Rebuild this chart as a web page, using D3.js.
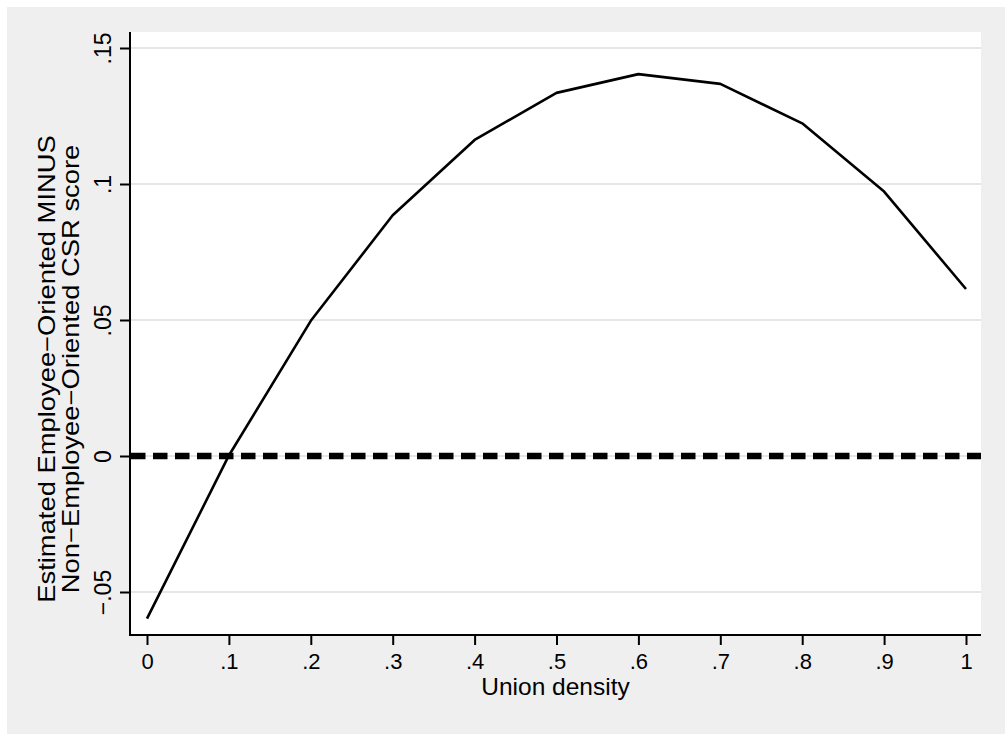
<!DOCTYPE html>
<html>
<head>
<meta charset="utf-8">
<script src="https://cdn.jsdelivr.net/npm/d3@7"></script>
<style>
  html, body { margin: 0; padding: 0; background: #fff; }
  text { font-family: "Liberation Sans", Arial, sans-serif; fill: #000; }
</style>
</head>
<body>
<div id="chart"></div>
<script>
// union density (x) and estimated score difference (y)
const unionDensity = [0, 0.1, 0.2, 0.3, 0.4, 0.5, 0.6, 0.7, 0.8, 0.9, 1];
const scoreDiff = [-0.0598, 0.0002, 0.0497, 0.0885, 0.1162, 0.1335, 0.1404, 0.1368, 0.1223, 0.0972, 0.0614];

const xTicks = [0, 0.1, 0.2, 0.3, 0.4, 0.5, 0.6, 0.7, 0.8, 0.9, 1];
const xTickLabels = ["0", ".1", ".2", ".3", ".4", ".5", ".6", ".7", ".8", ".9", "1"];
const yTicks = [-0.05, 0, 0.05, 0.1, 0.15];
const yTickLabels = ["\u2212.05", "0", ".05", ".1", ".15"];
const refLine = 0;

const xTitle = "Union density";
const yTitle = ["Estimated Employee\u2212Oriented MINUS", "Non\u2212Employee\u2212Oriented CSR score"];

const W = 1005, H = 734;
const plot = { left: 130, right: 981, top: 32, bottom: 635 };

const svg = d3.select("#chart").append("svg")
  .attr("width", W)
  .attr("height", H);

// outer graph region
svg.append("rect")
  .attr("x", 7).attr("y", 7)
  .attr("width", W - 7).attr("height", H - 7)
  .attr("fill", "#efefef");

svg.append("rect")
  .attr("x", plot.left).attr("y", plot.top)
  .attr("width", plot.right - plot.left).attr("height", plot.bottom - plot.top)
  .attr("fill", "#fff");

const x = d3.scaleLinear().domain([0, 1]).range([147, 966]);
const y = d3.scaleLinear().domain([-0.05, 0.15]).range([592, 48]);

// gridlines
svg.append("g")
  .selectAll("line")
  .data(yTicks)
  .join("line")
  .attr("x1", plot.left).attr("x2", plot.right)
  .attr("y1", d => y(d)).attr("y2", d => y(d))
  .attr("stroke", "#e6e6e6")
  .attr("stroke-width", 2);

// dashed reference line at zero
svg.append("line")
  .attr("x1", plot.left + 1).attr("x2", plot.right)
  .attr("y1", y(refLine)).attr("y2", y(refLine))
  .attr("stroke", "#000")
  .attr("stroke-width", 6.5)
  .attr("stroke-dasharray", "14.5,7.5");

const points = unionDensity.map((d, i) => ({ x: d, y: scoreDiff[i] }));

const line = d3.line()
  .x(d => x(d.x))
  .y(d => y(d.y));

svg.append("path")
  .datum(points)
  .attr("fill", "none")
  .attr("stroke", "#000")
  .attr("stroke-width", 2.6)
  .attr("stroke-linejoin", "round")
  .attr("d", line);

// axis lines
svg.append("line")
  .attr("x1", plot.left).attr("x2", plot.left)
  .attr("y1", plot.top).attr("y2", plot.bottom + 1)
  .attr("stroke", "#000").attr("stroke-width", 2);
svg.append("line")
  .attr("x1", plot.left - 1).attr("x2", plot.right)
  .attr("y1", plot.bottom).attr("y2", plot.bottom)
  .attr("stroke", "#000").attr("stroke-width", 2);

// x axis
const xAxis = svg.append("g")
  .attr("transform", `translate(0,${plot.bottom})`)
  .call(d3.axisBottom(x)
    .tickValues(xTicks)
    .tickFormat((d, i) => xTickLabels[i])
    .tickSize(10)
    .tickPadding(8));
xAxis.select(".domain").remove();
xAxis.selectAll(".tick line").attr("stroke", "#000").attr("stroke-width", 2);
xAxis.selectAll("text")
  .style("font-family", "'Liberation Sans', Arial, sans-serif")
  .style("font-size", "22px")
  .attr("fill", "#000");

// y axis
const yAxis = svg.append("g")
  .attr("transform", `translate(${plot.left},0)`)
  .call(d3.axisLeft(y)
    .tickValues(yTicks)
    .tickFormat((d, i) => yTickLabels[i])
    .tickSize(10));
yAxis.select(".domain").remove();
yAxis.selectAll(".tick line").attr("stroke", "#000").attr("stroke-width", 2);
yAxis.selectAll("text")
  .attr("x", null)
  .attr("dy", null)
  .attr("text-anchor", "middle")
  .attr("transform", "translate(-19,0) rotate(-90)")
  .style("font-family", "'Liberation Sans', Arial, sans-serif")
  .style("font-size", "23px")
  .attr("fill", "#000");

// titles
svg.append("text")
  .attr("x", (plot.left + plot.right) / 2)
  .attr("y", 695)
  .attr("text-anchor", "middle")
  .style("font-size", "24.5px")
  .text(xTitle);

// y title: the reference glyphs run wide along the reading direction
svg.append("g")
  .attr("transform", "translate(55,369) rotate(-90) scale(1.19,1)")
  .selectAll("text")
  .data(yTitle)
  .join("text")
  .attr("x", 0)
  .attr("y", (d, i) => i * 24)
  .attr("text-anchor", "middle")
  .style("font-size", "23px")
  .text(d => d);
</script>
</body>
</html>
